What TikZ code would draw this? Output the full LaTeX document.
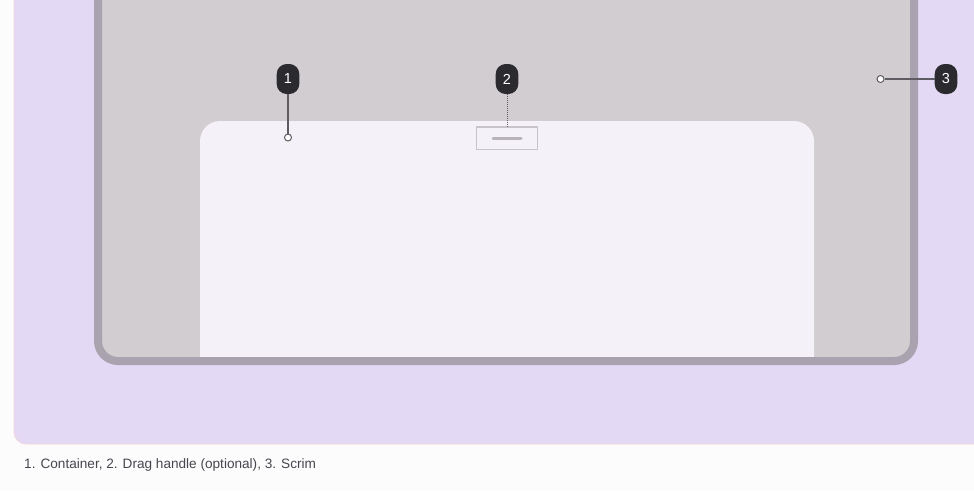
\documentclass[tikz,border=0pt]{standalone}
\usepackage{fontspec}
\setmainfont{Liberation Sans}
\definecolor{pagebg}{HTML}{FCFCFC}
\definecolor{panel}{HTML}{E4D9F4}
\definecolor{paneledge}{HTML}{F3D6DE}
\definecolor{frameedge}{HTML}{A9A3AF}
\definecolor{scrim}{HTML}{D2CDD0}
\definecolor{sheet}{HTML}{F5F1F8}
\definecolor{handleedge}{HTML}{C9C4CB}
\definecolor{handlebar}{HTML}{B8B3BA}
\definecolor{badge}{HTML}{2B2A2E}
\definecolor{leader}{HTML}{5F5B62}
\definecolor{captiontext}{HTML}{49454F}
\tikzset{
  badgenode/.style={rectangle, rounded corners=10pt, fill=badge, text=white,
    minimum width=22.6pt, minimum height=30pt, inner sep=0pt,
    font=\fontsize{14.5}{14.5}\selectfont},
  leaderline/.style={draw=leader, line width=1.4pt},
  dotleader/.style={draw=leader, line width=0.8pt, dash pattern=on 1pt off 1pt},
  endcircle/.style={circle, draw=leader, fill=white, line width=1pt,
    minimum size=7pt, inner sep=0pt},
}
\begin{document}
\begin{tikzpicture}[x=1pt,y=-1pt]
\useasboundingbox (0,0) rectangle (974,491);
\fill[pagebg] (0,0) rectangle (974,491);
\begin{scope}
\clip (0,0) rectangle (974,491);
% purple panel
\filldraw[fill=panel, draw=paneledge, line width=0.8pt, rounded corners=12pt]
  (14,-30) rectangle (1010,444);
% scrim inside device
\fill[scrim, rounded corners=20pt] (98,-40) rectangle (914,361);
% sheet
\begin{scope}
\clip (0,0) rectangle (974,358);
\fill[sheet, rounded corners=20pt] (200,121) rectangle (814,400);
\end{scope}
% device frame
\draw[frameedge, line width=8pt, rounded corners=20pt] (98,-40) rectangle (914,361);
\end{scope}
% drag handle
\node[draw=handleedge, line width=1.6pt, minimum width=61pt, minimum height=22.5pt,
  inner sep=0pt] (handle) at (507,138.3) {};
\draw[handlebar, line width=3pt, line cap=round] (493,138.3) -- (521,138.3);
% markers
\node[badgenode] (b1) at (288,79) {1};
\node[badgenode] (b2) at (507,79) {2};
\node[badgenode] (b3) at (946,79) {3};
\node[endcircle] (c1) at (288,137.5) {};
\node[endcircle] (c3) at (880.5,79) {};
\draw[leaderline] (b1.south) -- (c1.north);
\draw[dotleader] (b2.south) -- (handle.north);
\draw[leaderline] (c3.east) -- (b3.west);
% caption
\node[anchor=base west, inner sep=0pt, text=captiontext,
  font=\fontsize{13.6}{15}\selectfont] (caption) at (24,468)
  {1. Container, 2. Drag handle (optional), 3. Scrim};
\end{tikzpicture}
\end{document}
